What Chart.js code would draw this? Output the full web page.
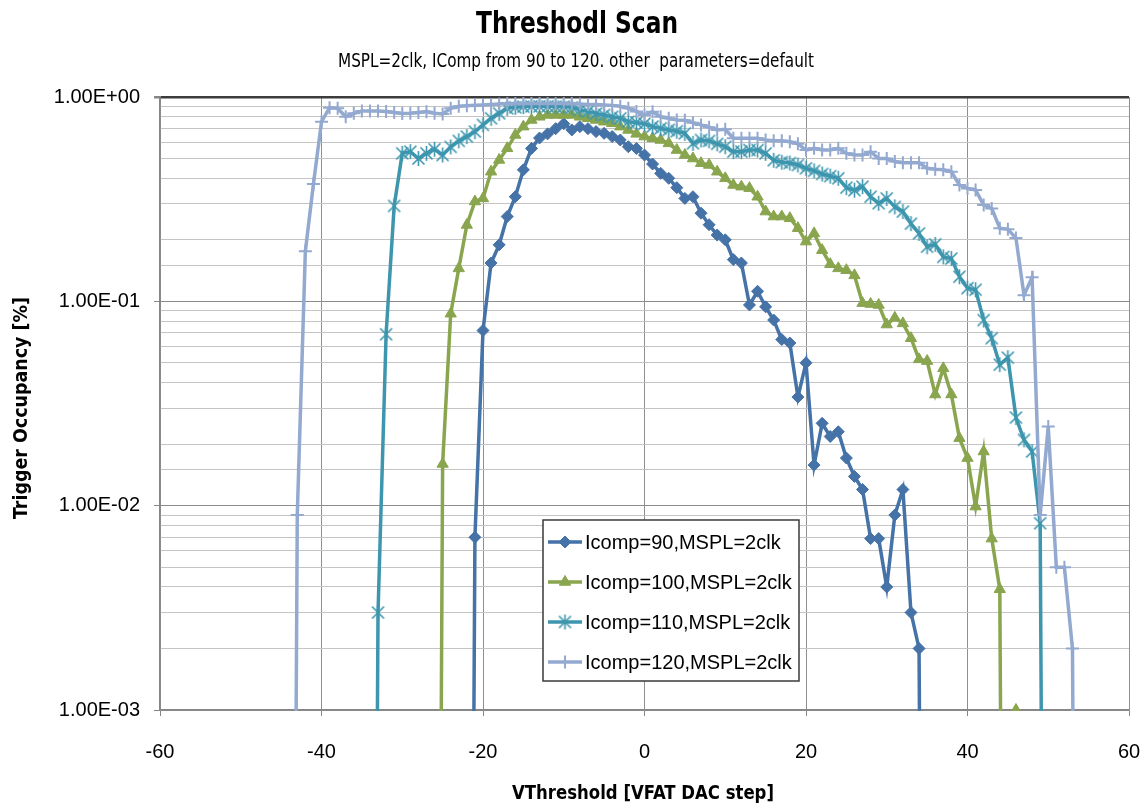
<!DOCTYPE html>
<html>
<head>
<meta charset="utf-8">
<title>Threshodl Scan</title>
<script src="https://cdn.jsdelivr.net/npm/chart.js"></script>
<style>
    html, body { margin: 0; padding: 0; background: #ffffff; }
    #wrap { width: 1142px; height: 807px; }
</style>
</head>
<body>
<div id="wrap"><canvas id="scanChart" width="1142" height="807"></canvas></div>
<script>
// VThreshold steps (VFAT DAC), shared by all series
const dacSteps = [
    -44, -43, -42, -41, -40, -39, -38, -37, -36, -35,
    -34, -33, -32, -31, -30, -29, -28, -27, -26, -25,
    -24, -23, -22, -21, -20, -19, -18, -17, -16, -15,
    -14, -13, -12, -11, -10, -9, -8, -7, -6, -5,
    -4, -3, -2, -1, 0, 1, 2, 3, 4, 5,
    6, 7, 8, 9, 10, 11, 12, 13, 14, 15,
    16, 17, 18, 19, 20, 21, 22, 23, 24, 25,
    26, 27, 28, 29, 30, 31, 32, 33, 34, 35,
    36, 37, 38, 39, 40, 41, 42, 43, 44, 45,
    46, 47, 48, 49, 50, 51, 52, 53, 54
];

// trigger occupancy, one value per step (null = not measured)
const icomp90 = [
    null, null, null, null, null, null, null, null, null, null,
    null, null, null, null, null, null, null, null, null, null,
    null, null, 0, 0.007, 0.072, 0.154, 0.189, 0.26, 0.325, 0.44,
    0.56, 0.63, 0.66, 0.70, 0.74, 0.69, 0.716, 0.70, 0.677, 0.664,
    0.64, 0.616, 0.571, 0.56, 0.52, 0.47, 0.423, 0.40, 0.36, 0.319,
    0.325, 0.27, 0.237, 0.211, 0.20, 0.16, 0.154, 0.096, 0.112, 0.094,
    0.081, 0.065, 0.0625, 0.034, 0.050, 0.0158, 0.0253, 0.0218, 0.023, 0.0171,
    0.0139, 0.012, 0.0069, 0.0069, 0.004, 0.009, 0.012, 0.003, 0.002, 0,
    null, null, null, null, null, null, null, null, null, null,
    null, null, null, null, null, null, null, null, null
];

const icomp100 = [
    null, null, null, null, null, null, null, null, null, null,
    null, null, null, null, null, null, null, null, 0, 0.016,
    0.087, 0.145, 0.2365, 0.308, 0.319, 0.431, 0.492, 0.561, 0.652, 0.716,
    0.772, 0.80, 0.817, 0.817, 0.817, 0.817, 0.80, 0.787, 0.772, 0.757,
    0.744, 0.716, 0.69, 0.66, 0.64, 0.628, 0.616, 0.593, 0.55, 0.52,
    0.50, 0.474, 0.465, 0.431, 0.40, 0.371, 0.364, 0.358, 0.325, 0.275,
    0.26, 0.26, 0.255, 0.228, 0.196, 0.215, 0.178, 0.152, 0.145, 0.142,
    0.134, 0.098, 0.097, 0.096, 0.077, 0.083, 0.078, 0.066, 0.052, 0.051,
    0.035, 0.047, 0.035, 0.0214, 0.0171, 0.0099, 0.0184, 0.0069, 0.0039, 0,
    0.001, 0, null, null, null, null, null, null, null
];

const icomp110 = [
    null, null, null, null, null, null, null, null, null, null,
    0, 0.003, 0.069, 0.293, 0.53, 0.54, 0.50, 0.53, 0.555, 0.52,
    0.57, 0.61, 0.64, 0.677, 0.73, 0.787, 0.832, 0.88, 0.89, 0.897,
    0.9, 0.9, 0.9, 0.897, 0.897, 0.89, 0.865, 0.85, 0.83, 0.817,
    0.80, 0.787, 0.757, 0.75, 0.74, 0.716, 0.703, 0.69, 0.68, 0.664,
    0.593, 0.616, 0.61, 0.59, 0.571, 0.54, 0.54, 0.55, 0.55, 0.53,
    0.49, 0.48, 0.475, 0.465, 0.448, 0.435, 0.42, 0.41, 0.40, 0.36,
    0.35, 0.364, 0.325, 0.302, 0.319, 0.29, 0.275, 0.24, 0.215, 0.185,
    0.19, 0.165, 0.162, 0.132, 0.116, 0.114, 0.081, 0.066, 0.049, 0.053,
    0.027, 0.021, 0.0184, 0.0082, 0, null, null, null, null
];

const icomp120 = [
    0, 0.009, 0.176, 0.375, 0.757, 0.887, 0.88, 0.80, 0.832, 0.854,
    0.855, 0.855, 0.85, 0.84, 0.83, 0.832, 0.84, 0.848, 0.832, 0.826,
    0.88, 0.90, 0.905, 0.91, 0.915, 0.92, 0.925, 0.93, 0.93, 0.93,
    0.93, 0.93, 0.93, 0.93, 0.93, 0.93, 0.925, 0.92, 0.92, 0.915,
    0.91, 0.90, 0.88, 0.85, 0.817, 0.847, 0.80, 0.787, 0.772, 0.77,
    0.749, 0.73, 0.711, 0.69, 0.695, 0.628, 0.628, 0.628, 0.628, 0.616,
    0.61, 0.61, 0.604, 0.59, 0.55, 0.561, 0.55, 0.55, 0.561, 0.53,
    0.52, 0.52, 0.54, 0.50, 0.50, 0.483, 0.477, 0.477, 0.477, 0.448,
    0.443, 0.44, 0.431, 0.371, 0.357, 0.351, 0.296, 0.285, 0.228, 0.225,
    0.204, 0.107, 0.131, 0.009, 0.0244, 0.005, 0.005, 0.002, 0
];

const seriesLabels = [
    "Icomp=90,MSPL=2clk",
    "Icomp=100,MSPL=2clk",
    "Icomp=110,MSPL=2clk",
    "Icomp=120,MSPL=2clk"
];

const xTickMin = -60;
const xTickMax = 60;
const xTickStep = 20;

const COND = '"DejaVu Sans Condensed", "DejaVu Sans", sans-serif';
const REGULAR = '"Liberation Sans", Arial, sans-serif';

function toPoints(values) {
    let pts = [];
    values.forEach((v, i) => {
        if (v === null) return;
        // Excel sends a zero to -infinity on a log axis; a tiny value below the axis does the same
        pts.push({ x: dacSteps[i], y: v === 0 ? 1e-9 : v });
    });
    return pts;
}

// Excel "star" marker: an X with a vertical bar
function makeStar(color) {
    const c = document.createElement("canvas");
    c.width = 17;
    c.height = 17;
    const g = c.getContext("2d");
    g.strokeStyle = color;
    g.lineWidth = 1.6;
    g.beginPath();
    g.moveTo(2.5, 2.5); g.lineTo(14.5, 14.5);
    g.moveTo(14.5, 2.5); g.lineTo(2.5, 14.5);
    g.moveTo(8.5, 1); g.lineTo(8.5, 16);
    g.stroke();
    return c;
}

function expLabel(value) {
    const e = Math.log10(value);
    const r = Math.round(e);
    if (Math.abs(e - r) > 1e-6) return "";
    return "1.00E" + (r < 0 ? "-" : "+") + String(Math.abs(r)).padStart(2, "0");
}

// text squeezed to a given width, like the narrow Calibri of the original
function drawFitted(c, text, font, cx, cy, width, rotate) {
    c.save();
    c.font = font;
    const w = c.measureText(text).width;
    c.translate(cx, cy);
    if (rotate) c.rotate(-Math.PI / 2);
    c.scale(Math.min(1, width / w), 1);
    c.textAlign = "center";
    c.textBaseline = "middle";
    c.fillStyle = "#000000";
    c.fillText(text, 0, 0);
    c.restore();
}

document.addEventListener("DOMContentLoaded", function () {
    const ctx = document.getElementById("scanChart").getContext("2d");

    const colors = ["#4572A7", "#89A54E", "#3D96AE", "#93A9D0"];
    const clipArea = { left: 10, top: 10, right: 10, bottom: 1 };

    const textPlugin = {
        id: "texts",
        afterDraw(chart) {
            const c = chart.ctx;
            drawFitted(c, "Threshodl Scan", "bold 30px " + COND, 577, 25, 202, false);
            drawFitted(c, "MSPL=2clk, IComp from 90 to 120. other  parameters=default", "20px " + COND, 576, 62, 476, false);
            drawFitted(c, "VThreshold [VFAT DAC step]", "bold 20px " + COND, 643, 794, 262, false);
            drawFitted(c, "Trigger Occupancy [%]", "bold 20px " + COND, 22, 408, 222, true);
        }
    };

    const boxLegend = {
        id: "boxLegend",
        afterDraw(chart) {
            const c = chart.ctx;
            c.save();
            c.fillStyle = "#ffffff";
            c.fillRect(543, 520, 256, 161);
            c.strokeStyle = "#3a3a3a";
            c.lineWidth = 1.5;
            c.strokeRect(543, 520, 256, 161);
            chart.data.datasets.forEach((ds, i) => {
                const y = 542 + i * 40;
                c.strokeStyle = ds.borderColor;
                c.lineWidth = ds.borderWidth;
                c.beginPath();
                c.moveTo(548, y);
                c.lineTo(582, y);
                c.stroke();
                c.fillStyle = ds.pointBackgroundColor;
                c.strokeStyle = ds.pointBorderColor;
                c.lineWidth = ds.pointBorderWidth;
                Chart.helpers.drawPoint(c, {
                    pointStyle: ds.pointStyle,
                    radius: ds.pointRadius,
                    rotation: 0,
                    borderWidth: ds.pointBorderWidth
                }, 565, y);
                c.fillStyle = "#000000";
                c.font = "20px " + REGULAR;
                c.textAlign = "left";
                c.textBaseline = "middle";
                c.fillText(ds.label, 585, y + 1);
            });
            c.restore();
        }
    };

    const scanChart = new Chart(ctx, {
        type: "line",
        data: {
            datasets: [
                {
                    label: seriesLabels[0], data: toPoints(icomp90), order: 4,
                    borderColor: colors[0], borderWidth: 3.5,
                    pointStyle: "rectRot", pointRadius: 6,
                    pointBackgroundColor: colors[0], pointBorderColor: colors[0], pointBorderWidth: 1
                },
                {
                    label: seriesLabels[1], data: toPoints(icomp100), order: 3,
                    borderColor: colors[1], borderWidth: 3.5,
                    pointStyle: "triangle", pointRadius: 6.5,
                    pointBackgroundColor: colors[1], pointBorderColor: colors[1], pointBorderWidth: 1
                },
                {
                    label: seriesLabels[2], data: toPoints(icomp110), order: 2,
                    borderColor: colors[2], borderWidth: 3.5,
                    pointStyle: makeStar(colors[2]), pointRadius: 7,
                    pointBackgroundColor: colors[2], pointBorderColor: colors[2], pointBorderWidth: 1.6
                },
                {
                    label: seriesLabels[3], data: toPoints(icomp120), order: 1,
                    borderColor: colors[3], borderWidth: 3.5,
                    pointStyle: "cross", pointRadius: 6.5,
                    pointBackgroundColor: colors[3], pointBorderColor: colors[3], pointBorderWidth: 2
                }
            ].map(ds => Object.assign(ds, { tension: 0, fill: false, clip: clipArea }))
        },
        options: {
            responsive: false,
            animation: false,
            layout: { padding: { top: 97, right: 13, left: 0, bottom: 0 } },
            plugins: {
                legend: { display: false },
                tooltip: { enabled: false },
                title: { display: false }
            },
            scales: {
                x: {
                    type: "linear",
                    min: xTickMin,
                    max: xTickMax,
                    afterFit: function (scale) {
                        scale.height = 97;
                        scale.paddingLeft = 0;
                        scale.paddingRight = 0;
                    },
                    ticks: {
                        stepSize: xTickStep,
                        padding: 24,
                        color: "#000000",
                        font: { family: REGULAR, size: 20 }
                    },
                    grid: { color: "#8f8f8f", lineWidth: 1, tickLength: 6, tickColor: "#868686" },
                    border: { display: true, color: "#868686", width: 1.5 }
                },
                y: {
                    type: "logarithmic",
                    min: 0.001,
                    max: 1,
                    afterFit: function (scale) { scale.width = 160; },
                    ticks: {
                        autoSkip: false,
                        padding: 14,
                        color: "#000000",
                        font: { family: REGULAR, size: 20 },
                        callback: function (value) { return expLabel(value); }
                    },
                    grid: {
                        tickLength: 6,
                        color: function (c) {
                            if (!c.tick) return "#c4c4c4";
                            if (Math.abs(c.tick.value - 1) < 1e-9) return "#3c3c3c";
                            return expLabel(c.tick.value) ? "#8c8c8c" : "#c4c4c4";
                        },
                        lineWidth: function (c) {
                            return c.tick && Math.abs(c.tick.value - 1) < 1e-9 ? 2.5 : 1;
                        },
                        tickColor: function (c) {
                            return c.tick && expLabel(c.tick.value) ? "#868686" : "rgba(0,0,0,0)";
                        }
                    },
                    border: { display: true, color: "#868686", width: 1.5 }
                }
            }
        },
        plugins: [textPlugin, boxLegend]
    });
});
</script>
</body>
</html>
